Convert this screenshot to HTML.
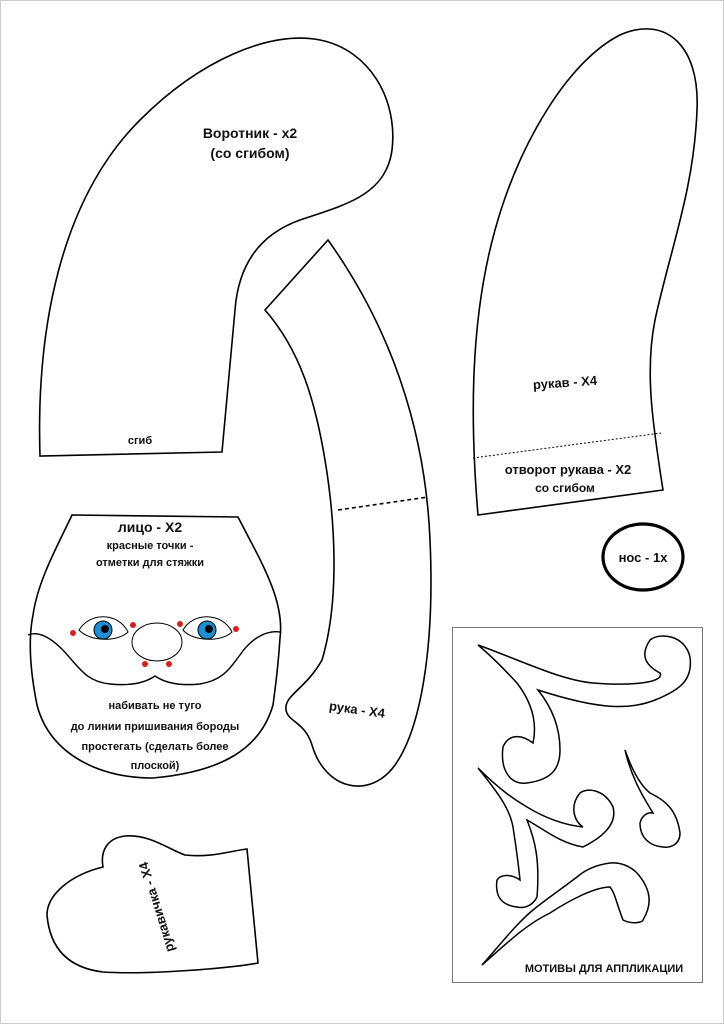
<!DOCTYPE html>
<html><head><meta charset="utf-8"><style>
html,body{margin:0;padding:0;background:#fff;}
svg{display:block;}
text{font-family:"Liberation Sans",sans-serif;font-weight:bold;fill:#111;text-anchor:middle;}
</style></head><body>
<svg width="724" height="1024" viewBox="0 0 724 1024" xmlns="http://www.w3.org/2000/svg">
<rect x="0.5" y="0.5" width="723" height="1023" fill="#fff" stroke="#ccc"/>
<g fill="none" stroke="#000" stroke-width="1.6">
<!-- collar -->
<path d="M40,456 C36,330 60,200 140,120 C200,60 270,30 320,40 C370,50 398,100 392,150 C386,195 345,205 300,220 C255,236 238,270 235,310 L222,452 Z"/>
<!-- arm -->
<path d="M328,240 C385,320 425,420 430,540 C435,650 420,730 395,765 C370,800 325,790 312,745 C305,722 288,722 286,710 C284,695 305,690 322,660 C340,600 335,520 325,460 C315,400 300,350 265,310 Z"/>
<path d="M338,510 L428,497" stroke-dasharray="4,3"/>
<!-- sleeve -->
<path d="M478,515 C470,420 470,320 495,230 C520,140 570,60 620,35 C665,15 700,45 697,110 C694,190 670,250 655,320 C645,370 652,420 663,490 Z"/>
<path d="M473,458 L661,433" stroke-dasharray="2,2" stroke-width="1"/>
<!-- face -->
<path d="M72,515 L238,517 C260,560 285,600 280,638 C278,670 275,690 273,705 C260,750 220,772 153,778 C100,778 50,755 37,705 C30,670 28,640 33,615 C38,580 58,545 72,515 Z"/>
<path d="M28,635 C40,630 55,640 70,658 C82,672 90,682 110,684 C130,686 145,683 155,676 C165,683 180,686 200,684 C225,680 232,665 240,655 C250,640 265,630 280,632" stroke-width="1.4"/>
<!-- mitten -->
<path d="M103,867 C100,850 108,838 125,836 C150,834 170,850 185,855 C210,858 230,851 247,849 L258,963 C230,968 150,975 103,972 C70,968 50,950 47,915 C47,895 70,875 103,867 Z"/>
<!-- nose piece -->
<ellipse cx="643" cy="557" rx="40" ry="33" stroke-width="3.2"/>
<!-- motifs -->
<rect x="452.5" y="627.5" width="250" height="355" stroke="#777" stroke-width="1"/>
<path d="M478,645 C520,660 560,680 593,683 C630,686 665,683 660,673 C645,665 640,655 650,640 C660,632 685,635 690,657 C693,680 680,690 655,700 C630,710 600,710 538,690 C550,705 560,725 560,750 C560,770 550,780 527,783 C510,785 500,770 503,747 C508,735 520,733 533,743 C538,720 530,700 517,683 C505,670 490,655 478,645 Z" stroke-width="1.5"/>
<path d="M478,768 C500,790 515,800 527,807 C545,818 565,825 583,827 C573,820 570,805 580,793 C588,787 605,790 613,807 C617,822 607,835 583,847 C560,843 545,830 527,820 C535,840 540,860 537,897 C533,905 525,909 517,907 C500,905 495,895 497,880 C500,875 510,873 520,880 C518,860 515,840 513,827 C510,810 500,795 478,768 Z" stroke-width="1.5"/>
<path d="M625,750 C632,770 640,785 650,793 C665,800 677,810 680,833 C680,845 670,848 663,847 C650,846 640,838 640,823 C642,815 648,812 653,813 C645,800 632,780 625,750 Z" stroke-width="1.5"/>
<path d="M482,965 C505,945 525,925 550,913 C570,900 595,887 610,887 C615,893 616,902 623,920 C633,925 643,922 643,920 C652,905 652,890 637,873 C630,866 620,862 610,863 C595,865 585,870 577,877 C560,890 545,900 533,910 C515,925 500,945 482,965 Z" stroke-width="1.5"/>
</g>
<!-- eyes -->
<g stroke="#000" stroke-width="1">
<path d="M79,630 C90,612 118,612 128,632 C118,642 90,642 79,630 Z" fill="#fff"/>
<circle cx="103" cy="630" r="9" fill="#1e8fd5"/><circle cx="105" cy="629" r="3.5" fill="#000"/>
<path d="M183,630 C193,612 222,612 232,632 C222,642 193,642 183,630 Z" fill="#fff"/>
<circle cx="207" cy="630" r="9" fill="#1e8fd5"/><circle cx="209" cy="629" r="3.5" fill="#000"/>
<ellipse cx="157" cy="642" rx="25" ry="19" fill="#fff"/>
</g>
<g fill="#d32020">
<circle cx="73" cy="633" r="3"/><circle cx="133" cy="625" r="3"/><circle cx="145" cy="664" r="3"/>
<circle cx="169" cy="664" r="3"/><circle cx="180" cy="624" r="3"/><circle cx="236" cy="629" r="3"/>
</g>
<!-- texts -->
<text x="250" y="138" font-size="14">Воротник - х2</text>
<text x="250" y="158" font-size="14">(со сгибом)</text>
<text x="140" y="444" font-size="11">сгиб</text>
<text x="565" y="387" font-size="13" transform="rotate(-4 565 383)">рукав - X4</text>
<text x="568" y="474" font-size="13">отворот рукава - X2</text>
<text x="565" y="492" font-size="12">со сгибом</text>
<text x="357" y="714" font-size="13" transform="rotate(8 357 710)">рука - X4</text>
<text x="643" y="562" font-size="13">нос - 1х</text>
<text x="150" y="532" font-size="14">лицо - X2</text>
<text x="150" y="549" font-size="11">красные точки -</text>
<text x="150" y="566" font-size="11">отметки для стяжки</text>
<text x="155" y="709" font-size="11">набивать не туго</text>
<text x="155" y="730" font-size="11">до линии пришивания бороды</text>
<text x="155" y="750" font-size="11">простегать (сделать более</text>
<text x="155" y="769" font-size="11">плоской)</text>
<text x="157" y="911" font-size="13" transform="rotate(-107 157 907)">рукавичка - X4</text>
<text x="604" y="972" font-size="11">МОТИВЫ ДЛЯ АППЛИКАЦИИ</text>
</svg>
</body></html>
